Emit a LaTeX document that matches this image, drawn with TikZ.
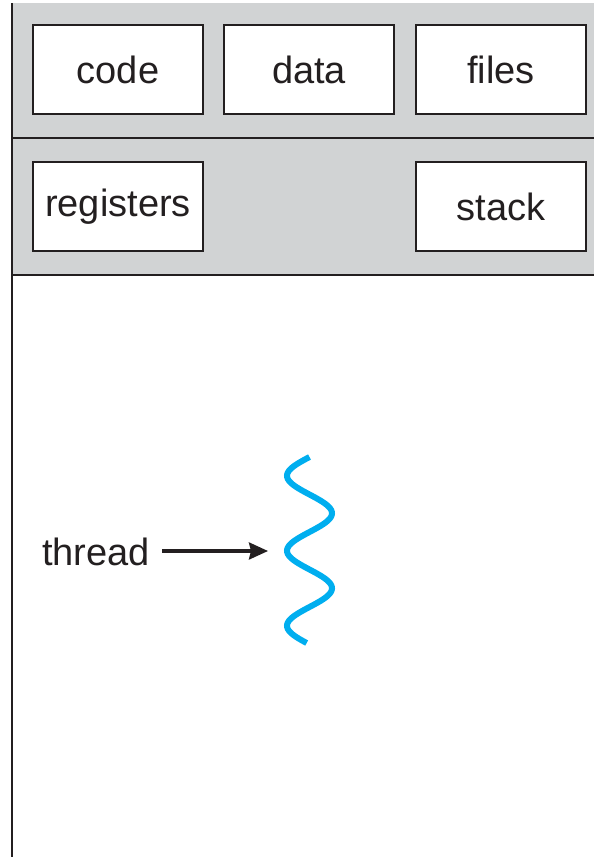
\documentclass[tikz,border=0pt]{standalone}
\usepackage{fontspec}
\setmainfont{Liberation Sans}
\usetikzlibrary{arrows.meta}
\definecolor{panelgray}{HTML}{D1D3D4}
\definecolor{inkc}{HTML}{231F20}
\definecolor{threadblue}{HTML}{00AEEF}
\tikzset{
  resbox/.style={draw=inkc, line width=1.5pt, fill=white, minimum width=170pt, minimum height=89pt, inner sep=0pt, font=\fontsize{38}{45}\selectfont, text=inkc},
  divider/.style={draw=inkc, line width=2pt},
  lbl/.style={font=\fontsize{38}{45}\selectfont, text=inkc, inner sep=0pt}
}
\begin{document}
\begin{tikzpicture}[x=1pt,y=-1pt]
\useasboundingbox (0,0) rectangle (594,857);
\fill[panelgray] (12,3) rectangle (594,275);
\draw[divider] (12,138) -- (594,138);
\draw[divider] (12,275) -- (594,275);
\draw[divider] (12,3) -- (12,857);
\node[resbox] (code) at (118,69.5) {code};
\node[resbox] (data) at (309,69.5) {data};
\node[resbox] (files) at (501,69.5) {files};
\node[resbox] (registers) at (118,206.5) {registers};
\node[resbox] (stack) at (501,206.5) {stack};
\node[lbl, anchor=base west] (thread) at (42,565) {thread};
\coordinate (tip) at (268,551);
\draw[inkc, line width=3.2pt, -{Stealth[length=19pt,width=17pt,inset=2pt]}] (thread.east |- tip) ++(12,0) -- (tip);
\draw[threadblue, line width=6pt, line cap=butt] plot[domain=0:186, samples=120, smooth] ({309.5-22.5*sin(\x*4.8)}, {457+\x});
\end{tikzpicture}
\end{document}
